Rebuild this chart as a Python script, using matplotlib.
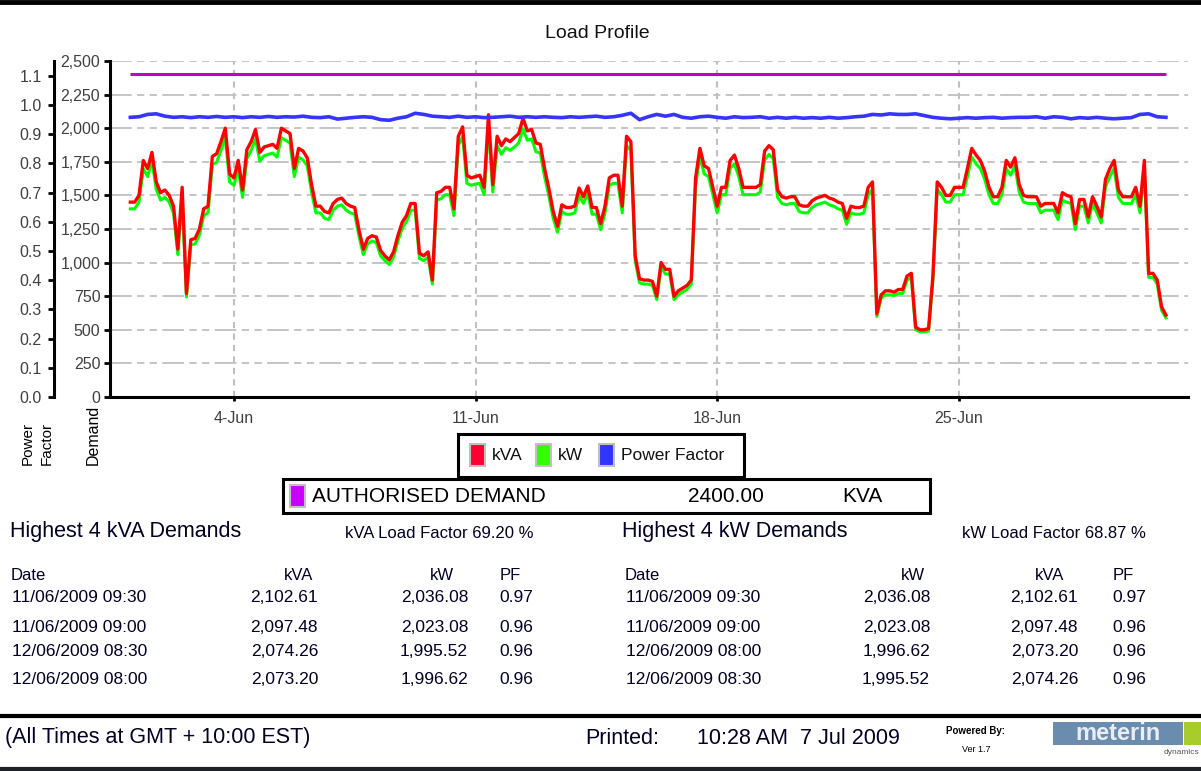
import matplotlib
matplotlib.use('Agg')
import matplotlib.pyplot as plt
from matplotlib.patches import Rectangle
import pandas as pd

plt.rcParams['font.family'] = ['Liberation Sans', 'DejaVu Sans']

# demand every 3 hours, 1 Jun 2009 00:00 to 1 Jul 2009 00:00
kva = [
    1450, 1450, 1500, 1760, 1700, 1820, 1600, 1520,
    1540, 1500, 1420, 1100, 1560, 770, 1170, 1180,
    1250, 1400, 1420, 1790, 1810, 1900, 2000, 1660,
    1630, 1760, 1540, 1840, 1900, 1990, 1820, 1860,
    1870, 1880, 1850, 2000, 1980, 1960, 1700, 1850,
    1830, 1780, 1580, 1420, 1420, 1380, 1370, 1440,
    1470, 1480, 1440, 1420, 1410, 1240, 1100, 1180,
    1200, 1190, 1090, 1050, 1020, 1080, 1200, 1300,
    1350, 1440, 1440, 1070, 1050, 1080, 870, 1520,
    1530, 1560, 1560, 1400, 1940, 2010, 1650, 1630,
    1640, 1650, 1560, 2100, 1580, 1940, 1870, 1920,
    1900, 1930, 1960, 2074, 1980, 1990, 1890, 1880,
    1700, 1550, 1380, 1270, 1430, 1410, 1410, 1420,
    1555, 1490, 1570, 1410, 1410, 1290, 1420, 1630,
    1650, 1650, 1420, 1940, 1900, 1050, 880, 870,
    870, 860, 750, 1000, 950, 950, 750, 790,
    810, 830, 870, 1630, 1850, 1720, 1700, 1560,
    1420, 1560, 1560, 1760, 1800, 1700, 1560, 1560,
    1560, 1560, 1580, 1830, 1870, 1840, 1540, 1490,
    1480, 1490, 1490, 1430, 1420, 1420, 1460, 1480,
    1490, 1500, 1480, 1470, 1450, 1440, 1330, 1420,
    1410, 1410, 1420, 1560, 1600, 620, 760, 790,
    790, 780, 800, 800, 900, 920, 520, 500,
    500, 510, 900, 1600, 1560, 1500, 1500, 1560,
    1560, 1560, 1700, 1850, 1800, 1760, 1680, 1560,
    1490, 1490, 1560, 1760, 1710, 1780, 1580, 1500,
    1490, 1490, 1490, 1420, 1440, 1440, 1440, 1370,
    1520, 1500, 1490, 1290, 1470, 1470, 1340, 1490,
    1420, 1340, 1620, 1700, 1760, 1540, 1490, 1490,
    1490, 1560, 1420, 1760, 920, 920, 870, 670,
    610,
]
kw = [
    1400, 1400, 1450, 1700, 1640, 1760, 1545, 1465,
    1485, 1450, 1370, 1060, 1505, 745, 1130, 1140,
    1205, 1350, 1370, 1730, 1745, 1835, 1930, 1600,
    1575, 1700, 1485, 1775, 1835, 1920, 1755, 1795,
    1805, 1815, 1785, 1930, 1910, 1890, 1640, 1785,
    1765, 1720, 1525, 1370, 1370, 1330, 1320, 1390,
    1420, 1430, 1390, 1370, 1360, 1195, 1060, 1140,
    1160, 1150, 1050, 1015, 985, 1040, 1160, 1255,
    1305, 1390, 1390, 1030, 1015, 1040, 840, 1465,
    1475, 1505, 1505, 1350, 1870, 1940, 1590, 1575,
    1585, 1590, 1505, 2023, 1525, 1870, 1805, 1855,
    1835, 1860, 1890, 1996, 1910, 1920, 1825, 1815,
    1640, 1495, 1330, 1225, 1380, 1360, 1360, 1370,
    1500, 1440, 1515, 1360, 1360, 1245, 1370, 1575,
    1590, 1590, 1370, 1870, 1835, 1015, 850, 840,
    840, 830, 725, 965, 915, 915, 725, 760,
    780, 800, 840, 1575, 1785, 1660, 1640, 1505,
    1370, 1505, 1505, 1700, 1735, 1640, 1505, 1505,
    1505, 1505, 1525, 1765, 1805, 1775, 1485, 1440,
    1430, 1440, 1440, 1380, 1370, 1370, 1410, 1430,
    1440, 1450, 1430, 1420, 1400, 1390, 1285, 1370,
    1360, 1360, 1370, 1505, 1545, 600, 735, 760,
    760, 755, 770, 770, 870, 890, 500, 485,
    485, 490, 870, 1545, 1505, 1450, 1450, 1505,
    1505, 1505, 1640, 1785, 1735, 1700, 1620, 1505,
    1440, 1440, 1505, 1700, 1650, 1720, 1525, 1450,
    1440, 1440, 1440, 1370, 1390, 1390, 1390, 1320,
    1465, 1450, 1440, 1245, 1420, 1420, 1295, 1440,
    1370, 1295, 1565, 1640, 1700, 1485, 1440, 1440,
    1440, 1505, 1370, 1700, 890, 890, 840, 645,
    590,
]
# power factor read every 6 hours
pf = [
    0.958, 0.960, 0.968, 0.970,
    0.962, 0.958, 0.960, 0.957,
    0.960, 0.958, 0.961, 0.958,
    0.960, 0.957, 0.960, 0.958,
    0.961, 0.958, 0.960, 0.959,
    0.962, 0.958, 0.957, 0.960,
    0.952, 0.955, 0.958, 0.960,
    0.958, 0.950, 0.948, 0.955,
    0.960, 0.972, 0.968, 0.962,
    0.960, 0.958, 0.962, 0.958,
    0.960, 0.957, 0.958, 0.960,
    0.962, 0.958, 0.960, 0.958,
    0.960, 0.958, 0.957, 0.960,
    0.958, 0.960, 0.962, 0.958,
    0.960, 0.965, 0.972, 0.950,
    0.960, 0.968, 0.962, 0.968,
    0.958, 0.955, 0.960, 0.962,
    0.958, 0.955, 0.960, 0.957,
    0.958, 0.960, 0.955, 0.958,
    0.955, 0.958, 0.955, 0.957,
    0.955, 0.958, 0.955, 0.957,
    0.960, 0.962, 0.968, 0.966,
    0.970, 0.968, 0.968, 0.970,
    0.964, 0.958, 0.955, 0.953,
    0.955, 0.957, 0.955, 0.957,
    0.958, 0.955, 0.957, 0.958,
    0.958, 0.960, 0.955, 0.960,
    0.958, 0.953, 0.957, 0.955,
    0.958, 0.955, 0.953, 0.955,
    0.957, 0.968, 0.970, 0.960,
    0.958,
]
authorised_kva = 2400

kva_ticks = [0, 250, 500, 750, 1000, 1250, 1500, 1750, 2000, 2250, 2500]
pf_ticks = [0.0, 0.1, 0.2, 0.3, 0.4, 0.5, 0.6, 0.7, 0.8, 0.9, 1.0, 1.1]
date_ticks = ['2009-06-04', '2009-06-11', '2009-06-18', '2009-06-25']
date_labels = ['4-Jun', '11-Jun', '18-Jun', '25-Jun']

kva_rows = [
    ['11/06/2009 09:30', '2,102.61', '2,036.08', '0.97'],
    ['11/06/2009 09:00', '2,097.48', '2,023.08', '0.96'],
    ['12/06/2009 08:30', '2,074.26', '1,995.52', '0.96'],
    ['12/06/2009 08:00', '2,073.20', '1,996.62', '0.96'],
]
kw_rows = [
    ['11/06/2009 09:30', '2,036.08', '2,102.61', '0.97'],
    ['11/06/2009 09:00', '2,023.08', '2,097.48', '0.96'],
    ['12/06/2009 08:00', '1,996.62', '2,073.20', '0.96'],
    ['12/06/2009 08:30', '1,995.52', '2,074.26', '0.96'],
]

t_demand = pd.date_range('2009-06-01 00:00', periods=len(kva), freq='3h')
t_pf = pd.date_range('2009-06-01 00:00', periods=len(pf), freq='6h')
start = pd.Timestamp('2009-06-01')

W, H = 1201, 771
fig = plt.figure(figsize=(W / 100, H / 100), dpi=100)
fig.patch.set_facecolor('white')

ax = fig.add_axes([110 / W, 1 - 397 / H, (1188 - 110) / W, (397 - 61) / H])
ax.plot(t_demand, kw, color='#00ff00', lw=2.2, zorder=3)
ax.plot(t_demand, kva, color='#ff0000', lw=2.4, zorder=4)
ax.hlines(authorised_kva, t_demand[0], t_demand[-1], color='#c000c0', lw=2.2, zorder=5)
ax.set_xlim(start - pd.Timedelta(days=0.59), start + pd.Timedelta(days=30.64))
ax.set_ylim(0, 2500)

ax.set_yticks(kva_ticks)
ax.set_yticklabels([f'{v:,}' for v in kva_ticks])
ax.set_xticks(pd.to_datetime(date_ticks))
ax.set_xticklabels(date_labels)
ax.tick_params(axis='y', direction='out', length=4, width=2, color='black',
               labelcolor='#404040', labelsize=11.5, pad=3)
ax.tick_params(axis='x', direction='out', length=3, width=2, color='black',
               labelcolor='#404040', labelsize=11.5, pad=7)
ax.yaxis.grid(True, color='#c0c0c0', lw=1.3, ls=(0, (12, 3, 4, 3, 4, 3)))
ax.xaxis.grid(True, color='#c0c0c0', lw=1.5, ls=(0, (3, 2.5)))
ax.set_axisbelow(True)
for s in ['top', 'right']:
    ax.spines[s].set_visible(False)
for s in ['left', 'bottom']:
    ax.spines[s].set_linewidth(2.2)
    ax.spines[s].set_color('black')

ax2 = ax.twinx()
ax2.plot(t_pf, pf, color='#3535ff', lw=2.6, zorder=3)
ax2.set_ylim(0, 1.151)
ax2.set_yticks(pf_ticks)
ax2.set_yticklabels([f'{v:.1f}' for v in pf_ticks])
ax2.yaxis.set_ticks_position('left')
ax2.yaxis.set_label_position('left')
for s in ['top', 'right', 'bottom']:
    ax2.spines[s].set_visible(False)
ax2.spines['left'].set_visible(True)
ax2.spines['left'].set_position(('outward', 40))
ax2.spines['left'].set_linewidth(2.2)
ax2.tick_params(axis='y', direction='out', length=4, width=2, color='black',
                labelcolor='#404040', labelsize=11.5, pad=5)

# report furniture, drawn in pixel coordinates
ov = fig.add_axes([0, 0, 1, 1])
ov.set_xlim(0, W)
ov.set_ylim(H, 0)
ov.axis('off')

ov.axhline(2, color='black', lw=3.5)
ov.axhline(716, color='black', lw=3)
ov.axhline(769, color='#1e2228', lw=3)

ov.text(597, 33, 'Load Profile', ha='center', va='center', fontsize=14, color='#111111')
ov.text(28, 443, 'Power', rotation=90, ha='center', va='center', fontsize=11)
ov.text(47, 443, 'Factor', rotation=90, ha='center', va='center', fontsize=11)
ov.text(93, 435, 'Demand', rotation=90, ha='center', va='center', fontsize=11.5)

# legend box
ov.add_patch(Rectangle((458, 434), 286, 43, fill=False, ec='black', lw=2.2))
legend_items = [('kVA', '#ff0033', 470), ('kW', '#33ff00', 536), ('Power Factor', '#3333ff', 599)]
for label, col, x0 in legend_items:
    ov.add_patch(Rectangle((x0, 444), 15, 22, fc=col, ec='#c0c0c0', lw=1.5))
    ov.text(x0 + 22, 456, label, ha='left', va='center', fontsize=12.5, color='#111111')

# authorised demand box
ov.add_patch(Rectangle((283, 479), 647, 34, fill=False, ec='black', lw=2.2))
ov.add_patch(Rectangle((290, 485), 15, 22, fc='#cc00ff', ec='#c0c0c0', lw=1.5))
ov.text(312, 496, 'AUTHORISED DEMAND', ha='left', va='center', fontsize=15)
ov.text(688, 497, f'{authorised_kva:.2f}', ha='left', va='center', fontsize=15)
ov.text(842, 497, 'KVA', ha='left', va='center', fontsize=15)

# highest demand tables
ov.text(10, 531, 'Highest 4 kVA Demands', ha='left', va='center', fontsize=15.5, color='#000022')
ov.text(345, 533, 'kVA Load Factor 69.20 %', ha='left', va='center', fontsize=12, color='#000022')
ov.text(622, 531, 'Highest 4 kW Demands', ha='left', va='center', fontsize=15.5, color='#000022')
ov.text(962, 533, 'kW Load Factor 68.87 %', ha='left', va='center', fontsize=12, color='#000022')

row_y = [598, 627, 652, 679]
tables = [
    (kva_rows, ['Date', 'kVA', 'kW', 'PF'], [12, 318, 468, 499]),
    (kw_rows, ['Date', 'kW', 'kVA', 'PF'], [626, 930, 1078, 1112]),
]
for rows, heads, xs in tables:
    ov.text(xs[0] - 1, 576, heads[0], ha='left', va='center', fontsize=12, color='#000022')
    ov.text(xs[1] - 5, 576, heads[1], ha='right', va='center', fontsize=12, color='#000022')
    ov.text(xs[2] - 14, 576, heads[2], ha='right', va='center', fontsize=12, color='#000022')
    ov.text(xs[3] + 1, 576, heads[3], ha='left', va='center', fontsize=12, color='#000022')
    for y, r in zip(row_y, rows):
        ov.text(xs[0], y, r[0], ha='left', va='center', fontsize=12.5, color='#000022')
        ov.text(xs[1], y, r[1], ha='right', va='center', fontsize=12.5, color='#000022')
        ov.text(xs[2], y, r[2], ha='right', va='center', fontsize=12.5, color='#000022')
        ov.text(xs[3], y, r[3], ha='left', va='center', fontsize=12.5, color='#000022')

# footer
ov.text(5, 738, '(All Times at GMT + 10:00 EST)', ha='left', va='center', fontsize=15.5, color='#000022')
ov.text(585, 738, 'Printed:', ha='left', va='center', fontsize=15.5, color='#000022')
ov.text(697, 738, '10:28 AM  7 Jul 2009', ha='left', va='center', fontsize=15.5, color='#000022')
ov.text(976, 731, 'Powered By:', ha='center', va='center', fontsize=7, fontweight='bold')
ov.text(976, 750, 'Ver 1.7', ha='center', va='center', fontsize=6.5)
ov.add_patch(Rectangle((1053, 722), 130, 23, fc='#6a8cae', ec='none'))
ov.text(1118, 733, 'meterin', ha='center', va='center', fontsize=17, fontweight='bold', color='#e8eef4')
ov.add_patch(Rectangle((1184, 722), 17, 23, fc='#a8cc2c', ec='none'))
ov.text(1199, 753, 'dynamics', ha='right', va='center', fontsize=6, color='#555555')

fig.savefig('out.png', dpi=100)
